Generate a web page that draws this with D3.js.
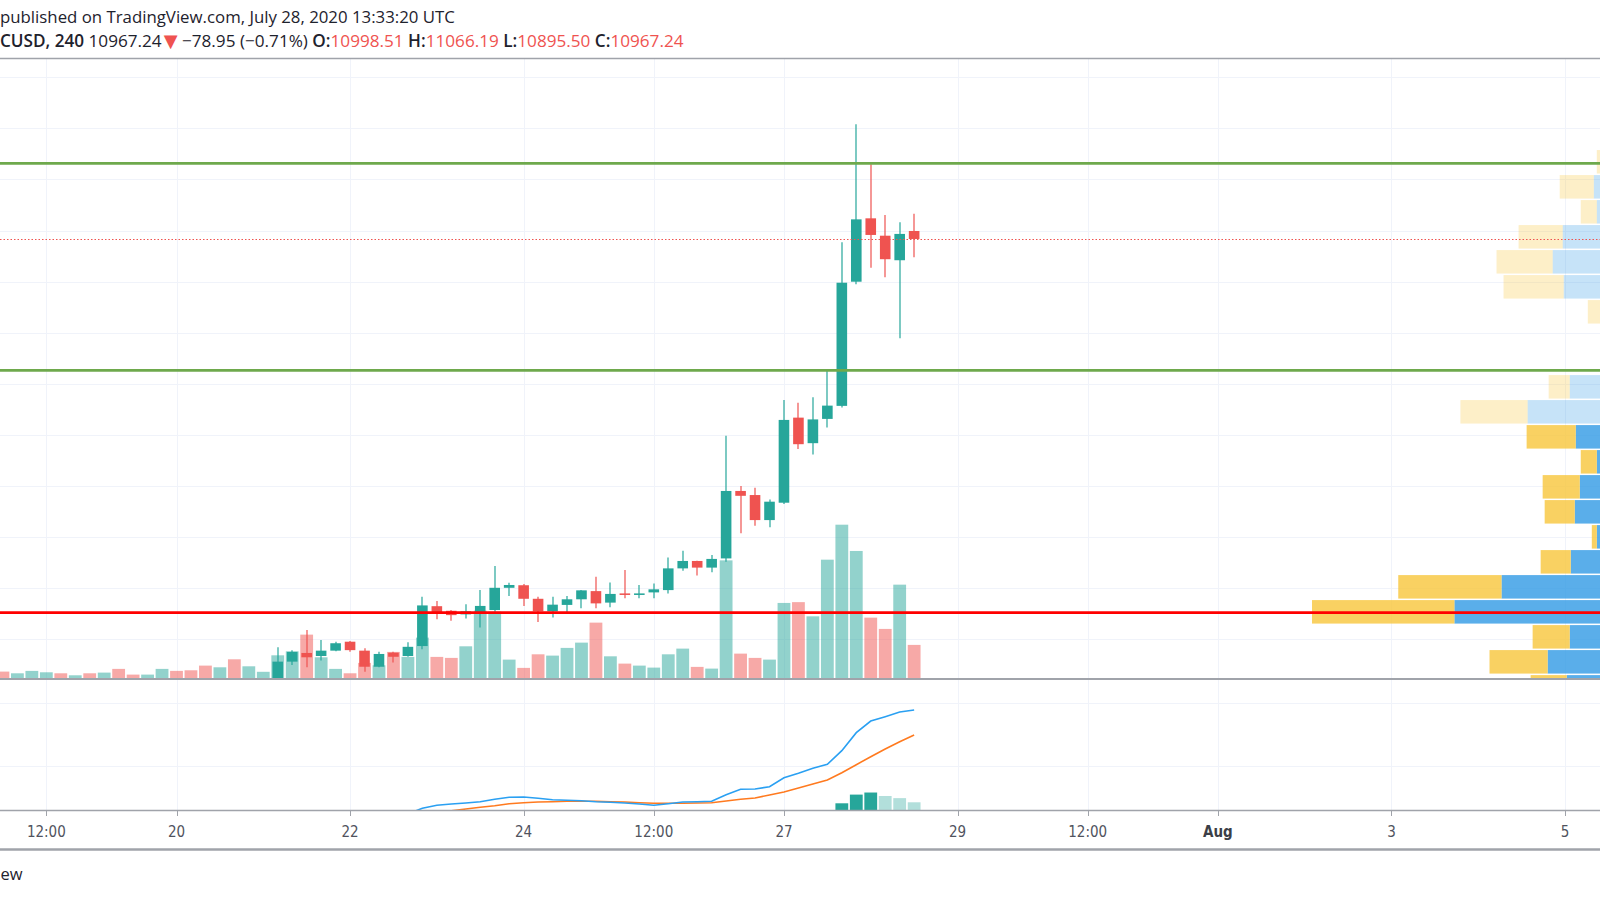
<!DOCTYPE html>
<html><head><meta charset="utf-8">
<script src="https://cdn.jsdelivr.net/npm/d3@7"></script>
<style>body{margin:0;background:#fff;overflow:hidden}svg{display:block}</style>
</head><body>
<svg id="c" width="1600" height="900"></svg>
<script>
// ---------------- DATA ----------------
const firstBar = Date.UTC(2020, 6, 18, 0, 0); // 4h bars, BTCUSD
const barHours = 4;
const pre = n => Array(n).fill(null);
const openP  = pre(19).concat([9200,9313,9347,9335,9356,9391,9356,9293,9348,9335,9374,9530,9512,9498,9506,9515,9602,9612,9559,9510,9535,9557,9589,9544,9580,9574,9584,9593,9678,9707,9681,9717,9981,9965,9867,9935,10268,10168,10263,10314,10800,11048,10980,10884,10998.51]);
const highP  = pre(19).concat([9369,9358,9437,9398,9391,9394,9365,9352,9352,9389,9567,9550,9515,9538,9593,9687,9622,9617,9567,9567,9570,9593,9645,9623,9672,9613,9619,9721,9747,9708,9730,10197,10000,9994,9948,10337,10326,10348,10452,10954,11416,11260,11061,11033,11066.19]);
const lowP   = pre(19).concat([9180,9300,9291,9317,9354,9352,9273,9291,9310,9332,9361,9479,9473,9482,9447,9508,9570,9531,9468,9486,9502,9522,9522,9526,9561,9561,9561,9580,9669,9650,9663,9704,9815,9845,9839,9930,10145,10124,10229,10308,10790,10855,10817,10579,10895.50]);
const closeP = pre(19).concat([9313,9351,9330,9356,9385,9358,9293,9343,9332,9371,9533,9506,9495,9510,9531,9602,9613,9559,9510,9536,9557,9592,9541,9578,9574,9580,9596,9678,9707,9681,9715,9981,9962,9867,9939,10259,10164,10261,10315,10796,11044,10983,10888,10987,10967.24]);
const volume = [315,239,347,284,239,149,239,270,437,180,180,437,347,374,585,509,869,554,306,1049,1229,1980,959,437,239,707,599,1202,977,1845,977,932,1454,3060,3015,855,482,1094,1035,1382,1620,2520,1004,675,585,495,1094,1350,527,450,5324,1125,932,855,3407,3443,2804,5355,6930,5747,2745,2237,4230,1517];
const volUp  = [0,1,1,1,0,1,0,1,0,0,1,1,0,0,0,1,0,1,1,1,1,0,1,1,0,0,1,0,1,1,0,0,1,1,1,1,0,0,1,1,1,0,1,0,1,1,1,1,0,1,1,0,0,1,1,0,1,1,1,1,0,0,1,0];
const macd   = pre(27).concat([18,24,32.9,37.6,39.7,41.3,43.3,47.1,50.3,50.8,48.7,46.5,45.6,44.9,43.3,42.4,41.3,39.7,37.6,40.2,42.9,43.3,44.0,54.4,63.0,63.5,67.1,81.4,88.4,96.3,102.7,124.3,152.9,171.4,178.3,185.7,188.9]);
const signal = pre(30).concat([23.8,29.0,31.7,34.4,37.0,40.2,41.7,42.9,43.3,44.0,44.0,44.0,43.3,42.9,41.7,40.8,40.8,40.8,41.3,41.7,44.4,47.1,49.2,54.0,58.7,65.1,71.4,77.8,89.4,102.1,114.8,127.0,138.6,149.2]);
const hist   = pre(58).concat([40.8,54.6,57.9,52.4,49.0,42.4]);

const priceTicks = [9400,9600,9800,10000,10200,10400,10600,10800,11000,11200,11400,11600];
const indTicks = [100,200];
const greenLevels = [11263, 10453];
const redLevels = [9505];
const lastPrice = 10967.24;
const change = -78.95, changePct = -0.71;

const tickDates  = ["2020-07-18T12:00Z","2020-07-20T00:00Z","2020-07-22T00:00Z","2020-07-24T00:00Z","2020-07-25T12:00Z","2020-07-27T00:00Z","2020-07-29T00:00Z","2020-07-30T12:00Z","2020-08-01T00:00Z","2020-08-03T00:00Z","2020-08-05T00:00Z"];
const tickLabels = ["12:00","20","22","24","12:00","27","29","12:00","Aug","3","5"];

// volume profile (visible range), rows of 97.85 USD
const vpStep = 97.85;
const vpRowLow = [11220.3,11122.4,11024.6,10926.7,10828.9,10731.0,10633.2,10535.3,10437.5,10339.6,10241.8,10143.9,10046.1,9948.2,9850.4,9752.5,9654.7,9556.8,9459.0,9361.1,9263.3,9165.4];
const vpUpVol   = [672,792,756,1164,1284,1152,660,480,540,1080,1584,1008,756,960,1020,756,1068,1896,2460,1080,1344,1116];
const vpDownVol = [84,408,192,528,672,720,204,144,120,252,804,588,192,444,360,60,360,1236,1704,444,696,432];
const vpInValueArea = [0,0,0,0,0,0,0,0,0,0,0,1,1,1,1,1,1,1,1,1,1,1];

// ---------------- LAYOUT ----------------
const svg = d3.select("#c");
const paneTop = 59, paneBot = 678.6, indTop = 679.5, indBot = 810;
const UP = "#26a69a", DN = "#ef5350", GRID = "#f0f3fa", FRAME = "#a0a3aa";

const times = volume.map((_, i) => d3.utcHour.offset(new Date(firstBar), barHours * i));
const x = d3.scaleUtc().domain([new Date(Date.UTC(2020,6,20)), new Date(Date.UTC(2020,7,5))]).range([176.5, 1565]);
const y = d3.scaleLinear().domain([9246.6, 11671.6]).range([paneBot, paneTop]);
const yVol = d3.scaleLinear().domain([0, 27900]).range([paneBot, paneTop]);
const yInd = d3.scaleLinear().domain([0, 200]).range([829, 703]);

const defs = svg.append("defs");
defs.append("clipPath").attr("id","clipMain").append("rect").attr("x",0).attr("y",paneTop).attr("width",1600).attr("height",paneBot-paneTop);
defs.append("clipPath").attr("id","clipInd").append("rect").attr("x",0).attr("y",indTop).attr("width",1600).attr("height",indBot-indTop);

const crisp = v => Math.round(v) + 0.5;

// grid
const g = svg.append("g");
g.selectAll(".hg").data(priceTicks).join("line")
  .attr("x1",0).attr("x2",1600).attr("y1",d=>crisp(y(d))).attr("y2",d=>crisp(y(d)))
  .attr("stroke",GRID).attr("stroke-width",1);
g.selectAll(".ig").data(indTicks).join("line")
  .attr("x1",0).attr("x2",1600).attr("y1",d=>crisp(yInd(d))).attr("y2",d=>crisp(yInd(d)))
  .attr("stroke",GRID).attr("stroke-width",1);
const tdates = tickDates.map(s => new Date(s));
g.selectAll(".vg").data(tdates).join("line")
  .attr("x1",d=>crisp(x(d))).attr("x2",d=>crisp(x(d))).attr("y1",paneTop).attr("y2",indBot)
  .attr("stroke",GRID).attr("stroke-width",1);

// main pane
const main = svg.append("g").attr("clip-path","url(#clipMain)");
// volume
const vw = 12.8;
main.append("g").selectAll("rect").data(volume).join("rect")
  .attr("x",(d,i)=>x(times[i]) - vw/2).attr("width",vw)
  .attr("y",d=>yVol(d)).attr("height",d=>paneBot - yVol(d))
  .attr("fill",(d,i)=> volUp[i] ? UP : DN).attr("fill-opacity",0.5);

// volume profile
const R = 1660;
const vpTot = vpUpVol.map((v,i)=>v + vpDownVol[i]);
const vpW = d3.scaleLinear().domain([0, d3.max(vpTot)]).range([0, 348]);
const vp = main.append("g");
vpRowLow.forEach((lo,i) => {
  const top = y(lo + vpStep), bot = y(lo);
  const h = bot - top - 1.5;
  const a = vpInValueArea[i] ? 0.8 : 0.28;
  const wu = vpW(vpUpVol[i]), wd = vpW(vpDownVol[i]);
  vp.append("rect").attr("x",R-wu).attr("y",top+0.75).attr("width",wu).attr("height",h)
    .attr("fill","rgb(49,154,229)").attr("fill-opacity",a);
  vp.append("rect").attr("x",R-wu-wd).attr("y",top+0.75).attr("width",wd).attr("height",h)
    .attr("fill","rgb(247,197,59)").attr("fill-opacity",a);
});

// candles
const bw = 10.6;
const cd = d3.range(volume.length).filter(i => openP[i] != null);
const cg = main.append("g");
cg.selectAll("line").data(cd).join("line")
  .attr("x1",i=>crisp(x(times[i]))-0.5).attr("x2",i=>crisp(x(times[i]))-0.5)
  .attr("y1",i=>y(highP[i])).attr("y2",i=>y(lowP[i]))
  .attr("stroke",i=> closeP[i] >= openP[i] ? UP : DN).attr("stroke-width",1.2);
cg.selectAll("rect").data(cd).join("rect")
  .attr("x",i=>x(times[i]) - bw/2).attr("width",bw)
  .attr("y",i=>y(Math.max(openP[i],closeP[i])))
  .attr("height",i=>Math.max(1, Math.abs(y(openP[i]) - y(closeP[i]))))
  .attr("fill",i=> closeP[i] >= openP[i] ? UP : DN);

// levels
const lv = svg.append("g");
lv.selectAll(".gl").data(greenLevels).join("line")
  .attr("x1",0).attr("x2",1600).attr("y1",d=>y(d)).attr("y2",d=>y(d))
  .attr("stroke","#6ea94c").attr("stroke-width",2.6);
lv.selectAll(".rl").data(redLevels).join("line")
  .attr("x1",0).attr("x2",1600).attr("y1",d=>y(d)).attr("y2",d=>y(d))
  .attr("stroke","#ff0000").attr("stroke-width",2.6);
lv.append("line").attr("x1",0).attr("x2",1600).attr("y1",crisp(y(lastPrice))).attr("y2",crisp(y(lastPrice)))
  .attr("stroke",DN).attr("stroke-width",1.1).attr("stroke-dasharray","1.5 2");

// indicator pane
const ind = svg.append("g").attr("clip-path","url(#clipInd)");
const hw = 12.8;
const hd = d3.range(volume.length).filter(i => hist[i] != null);
ind.selectAll("rect").data(hd).join("rect")
  .attr("x",i=>x(times[i]) - hw/2).attr("width",hw)
  .attr("y",i=>yInd(hist[i])).attr("height",i=>yInd(0) - yInd(hist[i]))
  .attr("fill",(i,k)=> (k===0 || hist[i] >= hist[hd[k-1]]) ? "#26a69a" : "#b2dfdb");
const line = arr => d3.line().defined(i => arr[i] != null).x(i => x(times[i])).y(i => yInd(arr[i]))(d3.range(arr.length));
ind.append("path").attr("d",line(signal)).attr("fill","none").attr("stroke","#ff7a1f").attr("stroke-width",1.6);
ind.append("path").attr("d",line(macd)).attr("fill","none").attr("stroke","#2aa0f2").attr("stroke-width",1.6);

// frame lines
const fr = svg.append("g");
[[58.5,1.5],[679,1.8],[810.5,1.6],[849.5,2.6]].forEach(([yy,w]) => {
  fr.append("line").attr("x1",0).attr("x2",1600).attr("y1",yy).attr("y2",yy).attr("stroke",FRAME).attr("stroke-width",w);
});

// time axis
const ax = svg.append("g");
ax.selectAll("line").data(tdates).join("line")
  .attr("x1",d=>crisp(x(d))).attr("x2",d=>crisp(x(d))).attr("y1",811).attr("y2",816)
  .attr("stroke",FRAME).attr("stroke-width",1);
ax.selectAll("text").data(tdates).join("text")
  .attr("x",d=>x(d)).attr("y",837).attr("text-anchor","middle")
  .attr("font-family","'DejaVu Sans Condensed','DejaVu Sans',sans-serif").attr("font-stretch","condensed")
  .attr("font-size",15).attr("fill",(d,i)=> tickLabels[i]==="Aug" ? "#3c3f47" : "#50535e")
  .attr("font-weight",(d,i)=> tickLabels[i]==="Aug" ? 600 : 400)
  .text((d,i)=>tickLabels[i]);

// header
const FONT = "'Open Sans','Noto Sans',sans-serif";
const DARK = "#1e222d";
const t1 = svg.append("text").attr("x",0).attr("y",23).attr("font-family",FONT).attr("font-size",16).attr("fill",DARK)
  .text("published on TradingView.com, July 28, 2020 13:33:20 UTC");
const n = closeP.length - 1;
const fmt = d3.format(".2f");
const segs = [
  {t:"CUSD, 240", b:1, c:DARK},
  {t:" " + fmt(closeP[n]), c:DARK},
  {t:"\u25BC", c:DN, dx:2},
  {t:" " + fmt(change).replace("-","\u2212") + " (" + fmt(changePct).replace("-","\u2212") + "%)", c:DARK},
  {t:" O:", b:1, c:DARK},{t:fmt(openP[n]), c:DN},
  {t:" H:", b:1, c:DARK},{t:fmt(highP[n]), c:DN},
  {t:" L:", b:1, c:DARK},{t:fmt(lowP[n]), c:DN},
  {t:" C:", b:1, c:DARK},{t:fmt(closeP[n]), c:DN}
];
const t2 = svg.append("text").attr("x",0).attr("y",46.5).attr("font-family",FONT).attr("font-size",16).attr("xml:space","preserve").style("white-space","pre");
segs.forEach(s => {
  const ts = t2.append("tspan").attr("fill",s.c).attr("font-weight",s.b?600:400).text(s.t);
  if (s.dx) ts.attr("dx",s.dx);
  if (s.t === "\u25BC") ts.attr("font-family","'DejaVu Sans',sans-serif").attr("font-size","1.05em");
});
// fit header widths to the reference
[[t1,455],[t2,682]].forEach(([t,target]) => {
  const L = t.node().getComputedTextLength();
  if (L > 0) t.attr("font-size", 16 * target / L);
});

// footer (visible part of the TradingView wordmark)
svg.append("text").attr("x",0.5).attr("y",880).attr("font-family",FONT)
  .attr("font-size",16.5).attr("fill",DARK).text("ew");
</script>
</body></html>
